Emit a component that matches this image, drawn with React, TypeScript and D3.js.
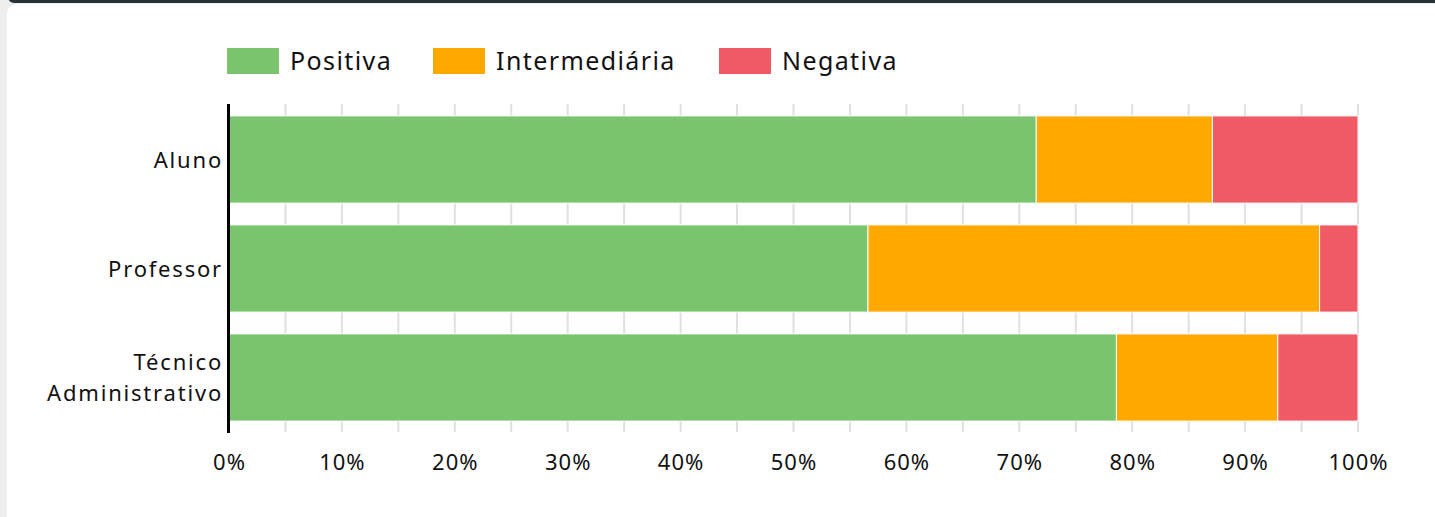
import React from "react";
import * as d3 from "d3";

const categories = ["Aluno", "Professor", "Técnico Administrativo"];
const seriesNames = ["Positiva", "Intermediária", "Negativa"];
const positiva = [71.5, 56.6, 78.6];
const intermediaria = [15.6, 40.0, 14.3];
const negativa = [12.9, 3.4, 7.1];
const tickValues = [0, 10, 20, 30, 40, 50, 60, 70, 80, 90, 100];
const colors = ["#7bc46e", "#ffa800", "#f05a64"];

const W = 1435;
const H = 517;
const FONT = "'Noto Sans', sans-serif";

export default function App() {
  const x = d3.scaleLinear().domain([0, 100]).range([229, 1358]);
  const y = d3
    .scaleBand<string>()
    .domain(categories)
    .range([105, 432])
    .paddingInner(0.2)
    .paddingOuter(0.1);

  const rows = categories.map((c, i) => ({
    cat: c,
    Positiva: positiva[i],
    "Intermediária": intermediaria[i],
    Negativa: negativa[i],
  }));
  const stack = d3.stack<any>().keys(seriesNames)(rows);
  const grid = d3.range(0, 101, 5);

  const legendX = [227, 433, 719];

  return (
    <div style={{ position: "fixed", left: 0, top: 0 }}>
      <svg width={W} height={H} style={{ display: "block" }}>
        <rect x={0} y={0} width={W} height={H} fill="#eeeeee" />
        <rect x={7} y={4} width={W} height={H + 20} rx={10} fill="#ffffff" />
        <rect x={8} y={-10} width={W} height={13} rx={6} fill="#263238" />

        {/* legend */}
        {seriesNames.map((s, i) => (
          <g key={s}>
            <rect x={legendX[i]} y={48} width={52} height={26} fill={colors[i]} />
            <text
              x={legendX[i] + 63}
              y={70}
              fontFamily={FONT}
              fontSize={25}
              letterSpacing={1.4}
              fill="#111"
            >
              {s}
            </text>
          </g>
        ))}

        {/* grid */}
        {grid.map((g) => (
          <line
            key={g}
            x1={x(g)}
            x2={x(g)}
            y1={104}
            y2={432}
            stroke="#e0e0e0"
            strokeWidth={2}
          />
        ))}

        {/* bars */}
        {stack.map((layer, si) => (
          <g key={layer.key}>
            {layer.map((d, i) => (
              <rect
                key={i}
                x={x(d[0])}
                y={y(categories[i])}
                width={x(d[1]) - x(d[0])}
                height={y.bandwidth()}
                fill={colors[si]}
                stroke="#ffffff"
                strokeWidth={1}
              />
            ))}
          </g>
        ))}

        {/* y axis line */}
        <line x1={228.5} x2={228.5} y1={104} y2={433} stroke="#000" strokeWidth={3} />

        {/* category labels */}
        {categories.map((c) => {
          const cy = (y(c) as number) + y.bandwidth() / 2;
          const parts = c === "Técnico Administrativo" ? ["Técnico", "Administrativo"] : [c];
          const lh = 31;
          return (
            <text
              key={c}
              textAnchor="end"
              fontFamily={FONT}
              fontSize={22}
              letterSpacing={1.8}
              fill="#111"
            >
              {parts.map((p, k) => (
                <tspan
                  key={k}
                  x={223}
                  y={cy + 8 + (k - (parts.length - 1) / 2) * lh}
                >
                  {p}
                </tspan>
              ))}
            </text>
          );
        })}

        {/* x tick labels */}
        {tickValues.map((t) => (
          <text
            key={t}
            x={x(t) + 0.5}
            y={470}
            textAnchor="middle"
            fontFamily={FONT}
            fontSize={22}
            letterSpacing={1}
            fill="#111"
          >
            {t}%
          </text>
        ))}
      </svg>
    </div>
  );
}
